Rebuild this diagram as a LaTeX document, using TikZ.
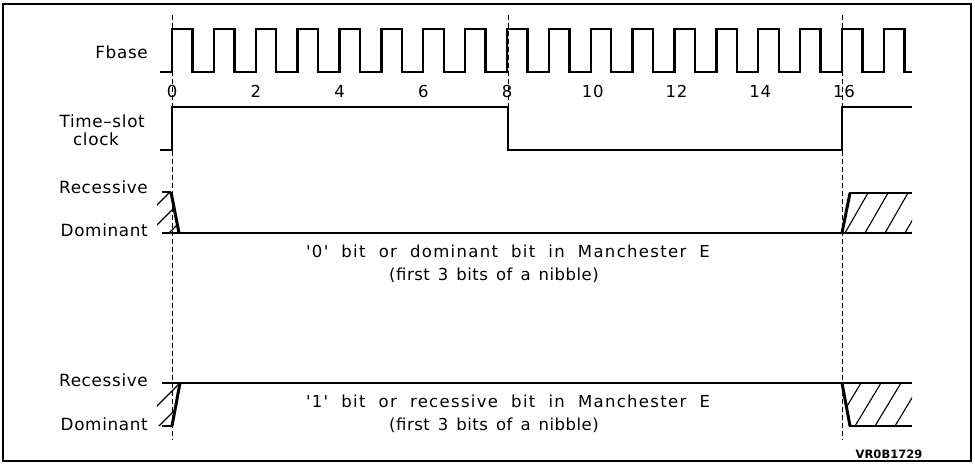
\documentclass[tikz,border=0pt]{standalone}
\usepackage{fontspec}
\setmainfont{DejaVu Sans}[LetterSpace=4]
\newfontfamily\widefont{DejaVu Sans}[LetterSpace=8,WordSpace=2]
\newfontfamily\narrowfont{DejaVu Sans}[LetterSpace=3,WordSpace=1.4]
\newfontfamily\codefont{DejaVu Sans}
\begin{document}
\begin{tikzpicture}[x=1pt,y=-1pt,
  sig/.style={line width=2.4pt, line join=miter},
  slant/.style={line width=3pt},
  guide/.style={line width=0.9pt, dash pattern=on 5pt off 3pt},
  hatchline/.style={line width=1.1pt},
  lbl/.style={font=\fontsize{16.8}{18}\selectfont, inner sep=0pt},
  txt/.style={font=\widefont\fontsize{16.5}{18}\selectfont, inner sep=0pt, anchor=base},
  txtb/.style={font=\narrowfont\fontsize{16.5}{18}\selectfont, inner sep=0pt, anchor=base},
  tick/.style={font=\fontsize{16.5}{18}\selectfont, inner sep=0pt, anchor=base}]
\useasboundingbox (0,0) rectangle (975,464);
\draw[line width=1.4pt] (3,4) rectangle (971,461);
% guides
\draw[guide] (172,15) -- (172,440);
\draw[guide] (508,15) -- (508,150);
\draw[guide] (842,15) -- (842,440);
% Fbase
\draw[sig] (160,72) foreach \k in {0,...,17} { -- ({172+\k*41.875},72) -- ({172+\k*41.875},29) -- ({192.5+\k*41.875},29) -- ({192.5+\k*41.875},72) } -- (912,72);
\foreach \i in {0,...,8} {
  \pgfmathtruncatemacro{\n}{2*\i}
  \node[tick] (t\i) at ({172+2*\i*41.875+(\i>4?2:0)},97) {\n};
}
% time-slot clock
\draw[sig] (160,150) -- (172,150) -- (172,107) -- (508,107) -- (508,150) -- (842,150) -- (842,107) -- (912,107);
% '0' bit waveform
\draw[sig] (162,192) -- (171,192);
\draw[slant] (171,192) -- (179,233);
\draw[sig] (162,233) -- (912,233);
\draw[slant] (842,233) -- (850,193);
\draw[sig] (849,193) -- (912,193);
\begin{scope}
  \clip (157,192) -- (171,192) -- (179,233) -- (157,233) -- cycle;
  \foreach \c in {362,382,402} \draw[hatchline] ({\c-240},240) -- ({\c-185},185);
\end{scope}
\begin{scope}
  \clip (842,233) -- (850,193) -- (912,193) -- (912,233) -- cycle;
  \foreach \b in {845,865,885,905} \draw[hatchline] (\b,233) -- ({\b+23},193);
\end{scope}
% '1' bit waveform
\draw[sig] (162,426) -- (172,426);
\draw[slant] (172,426) -- (180,383);
\draw[sig] (162,383) -- (912,383);
\draw[slant] (842,383) -- (850,426);
\draw[sig] (849,426) -- (912,426);
\begin{scope}
  \clip (157,383) -- (180,383) -- (172,426) -- (157,426) -- cycle;
  \foreach \c in {563,585} \draw[hatchline] ({\c-430},430) -- ({\c-378},378);
\end{scope}
\begin{scope}
  \clip (842,383) -- (912,383) -- (912,426) -- (850,426) -- cycle;
  \foreach \b in {835,855,875,895} \draw[hatchline] (\b,426) -- ({\b+26},383);
\end{scope}
% labels
\node[lbl, anchor=base east] (fbase) at (148,58) {Fbase};
\node[lbl, anchor=base east] (ts) at (145,127) {Time–slot};
\node[lbl, anchor=base] (clk) at (96,145) {clock};
\node[lbl, anchor=base east] (rec1) at (148,193) {Recessive};
\node[lbl, anchor=base east] (dom1) at (148,236) {Dominant};
\node[lbl, anchor=base east] (rec2) at (148,386) {Recessive};
\node[lbl, anchor=base east] (dom2) at (148,430) {Dominant};
\node[txt] (z1) at (508,257) {'0' bit or dominant bit in Manchester E};
\node[txtb] (z2) at (494,280) {(first 3 bits of a nibble)};
\node[txt] (o1) at (508,407) {'1' bit or recessive bit in Manchester E};
\node[txtb] (o2) at (494,430) {(first 3 bits of a nibble)};
\node[font=\codefont\bfseries\fontsize{11.5}{12}\selectfont, inner sep=0pt, anchor=base] (code) at (889,458) {VR0B1729};
\end{tikzpicture}
\end{document}
